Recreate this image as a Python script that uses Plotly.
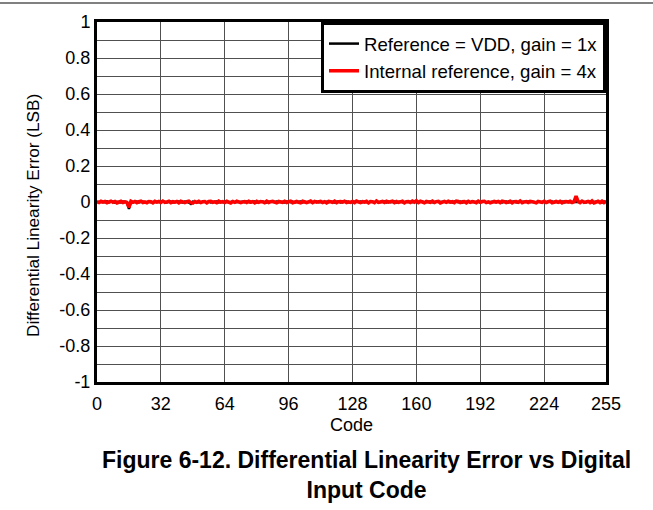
import plotly.graph_objects as go

codes = list(range(256))

# DNL, internal reference, gain = 4x (LSB)
dnl_internal = [
    0.002, -0.003, 0.004, -0.001, 0.003, -0.004, 0.001, 0.005, -0.002, 0.003, -0.005, 0.002, 0.004, -0.003, 0.001, -0.002,
    -0.030, 0.004, -0.002, 0.003, -0.004, 0.002, 0.005, -0.003, 0.001, -0.004, 0.003, 0.002, -0.005, 0.004, -0.001, 0.003,
    -0.003, 0.005, -0.002, 0.001, 0.004, -0.004, 0.002, -0.001, 0.003, -0.005, 0.004, 0.001, -0.003, 0.002, 0.005, -0.004,
    -0.006, 0.003, -0.002, 0.004, -0.003, 0.001, 0.002, -0.005, 0.003, 0.004, -0.002, 0.001, -0.004, 0.005, -0.001, 0.002,
    -0.003, 0.004, 0.001, -0.005, 0.003, -0.002, 0.005, 0.002, -0.004, 0.001, 0.003, -0.003, 0.004, -0.001, 0.002, -0.005,
    0.004, -0.002, 0.003, 0.001, -0.004, 0.005, -0.003, 0.002, 0.004, -0.001, -0.005, 0.003, 0.001, -0.002, 0.004, -0.003,
    0.002, 0.005, -0.004, 0.001, 0.003, -0.002, -0.005, 0.004, 0.002, -0.003, 0.001, 0.005, -0.004, 0.003, -0.001, 0.002,
    0.004, -0.003, 0.002, -0.005, 0.003, 0.001, -0.002, 0.005, -0.004, 0.002, 0.003, -0.001, 0.004, -0.003, 0.001, -0.002,
    0.003, -0.004, 0.005, 0.001, -0.003, 0.002, -0.001, 0.004, -0.005, 0.003, 0.002, -0.004, 0.006, -0.002, 0.001, 0.003,
    -0.003, 0.004, -0.001, 0.002, 0.005, -0.004, 0.003, -0.002, 0.001, 0.004, -0.005, 0.002, 0.003, -0.003, 0.005, -0.001,
    0.007, -0.003, 0.004, 0.002, -0.004, 0.003, 0.001, -0.002, 0.005, -0.003, 0.002, 0.004, -0.005, 0.001, 0.003, -0.002,
    0.004, -0.001, 0.002, -0.004, 0.005, 0.003, -0.003, 0.001, 0.002, -0.005, 0.004, -0.002, 0.003, 0.001, -0.004, 0.005,
    -0.002, 0.003, 0.004, -0.003, 0.001, -0.005, 0.002, 0.004, -0.001, 0.003, -0.004, 0.005, 0.002, -0.003, 0.001, 0.004,
    -0.005, 0.002, 0.003, -0.002, 0.006, -0.004, 0.001, 0.003, -0.003, 0.004, 0.002, -0.001, -0.005, 0.003, 0.001, -0.002,
    0.004, -0.003, 0.002, 0.005, -0.004, 0.001, 0.003, -0.002, 0.004, -0.005, 0.002, 0.003, -0.001, 0.004, -0.003, 0.002,
    0.033, 0.003, -0.004, 0.005, -0.002, 0.001, 0.004, -0.003, 0.006, -0.005, 0.002, 0.004, -0.003, 0.005, -0.004, 0.003,
]

# DNL, reference = VDD, gain = 1x (LSB)
dnl_vdd = [
    0.001, -0.002, 0.002, 0.000, -0.001, 0.003, -0.002, 0.001, 0.002, -0.003, 0.001, 0.000, -0.002, 0.002, 0.001, -0.001,
    -0.038, 0.002, -0.001, 0.001, 0.003, -0.002, 0.000, 0.002, -0.003, 0.001, 0.002, -0.001, 0.000, -0.002, 0.003, 0.001,
    -0.001, 0.002, 0.000, -0.003, 0.001, 0.002, -0.002, 0.001, 0.000, 0.003, -0.001, -0.002, 0.002, 0.001, -0.003, -0.010,
    0.002, -0.001, 0.001, 0.000, -0.002, 0.003, 0.001, -0.001, 0.002, -0.003, 0.000, 0.001, 0.002, -0.002, 0.001, -0.001,
    0.000, 0.002, -0.003, 0.001, 0.002, -0.001, 0.000, -0.002, 0.003, 0.001, -0.001, 0.002, 0.000, -0.003, 0.001, 0.002,
    -0.002, 0.001, 0.000, 0.003, -0.001, -0.002, 0.002, 0.001, -0.003, 0.000, 0.002, -0.001, 0.001, 0.000, -0.002, 0.003,
    0.001, -0.001, 0.002, -0.003, 0.000, 0.001, 0.002, -0.002, 0.001, -0.001, 0.000, 0.002, -0.003, 0.001, 0.002, -0.001,
    0.000, -0.002, 0.003, 0.001, -0.001, 0.002, 0.000, -0.003, 0.001, 0.002, -0.002, 0.001, 0.000, 0.003, -0.001, -0.002,
    0.002, 0.001, -0.003, 0.000, 0.002, -0.001, 0.001, 0.000, -0.002, 0.003, 0.001, -0.001, 0.002, -0.003, 0.000, 0.001,
    0.002, -0.002, 0.001, -0.001, 0.000, 0.002, -0.003, 0.001, 0.002, -0.001, 0.000, -0.002, 0.003, 0.001, -0.001, 0.002,
    0.000, -0.003, 0.001, 0.002, -0.002, 0.001, 0.000, 0.003, -0.001, -0.002, 0.002, 0.001, -0.003, 0.000, 0.002, -0.001,
    0.001, 0.000, -0.002, 0.003, 0.001, -0.001, 0.002, -0.003, 0.000, 0.001, 0.002, -0.002, 0.001, -0.001, 0.000, 0.002,
    -0.003, 0.001, 0.002, -0.001, 0.000, -0.002, 0.003, 0.001, -0.001, 0.002, 0.000, -0.003, 0.001, 0.002, -0.002, 0.001,
    0.000, 0.003, -0.001, -0.002, 0.002, 0.001, -0.003, 0.000, 0.002, -0.001, 0.001, 0.000, -0.002, 0.003, 0.001, -0.001,
    0.002, -0.003, 0.000, 0.001, 0.002, -0.002, 0.001, -0.001, 0.000, 0.002, -0.003, 0.001, 0.002, -0.001, 0.000, -0.002,
    0.003, 0.001, -0.001, 0.002, 0.000, -0.003, 0.001, 0.002, -0.002, 0.001, 0.000, 0.003, -0.001, -0.002, 0.002, 0.001,
]

x_tickvals = [0, 32, 64, 96, 128, 160, 192, 224, 255]
x_ticktext = ["0", "32", "64", "96", "128", "160", "192", "224", "255"]
y_tickvals = [-1, -0.8, -0.6, -0.4, -0.2, 0, 0.2, 0.4, 0.6, 0.8, 1]
y_ticktext = ["-1", "-0.8", "-0.6", "-0.4", "-0.2", "0", "0.2", "0.4", "0.6", "0.8", "1"]

FONT = "Liberation Sans Narrow, Arial Narrow, Liberation Sans, Arial, sans-serif"
GRID = "#505050"

# plot-area geometry in pixels, used to place the free-standing labels
PL, PR, PT, PB = 97, 606, 22, 382
PW, PH = PR - PL, PB - PT

fig = go.Figure()
fig.add_trace(go.Scatter(
    x=codes, y=dnl_vdd, mode="lines", name="Reference = VDD, gain = 1x",
    line=dict(color="black", width=2.5),
))
fig.add_trace(go.Scatter(
    x=codes, y=dnl_internal, mode="lines", name="Internal reference, gain = 4x",
    line=dict(color="#ff0000", width=3.5),
))

fig.update_layout(
    width=653, height=510,
    margin=dict(l=PL, r=653 - PR, t=PT, b=510 - PB),
    paper_bgcolor="white", plot_bgcolor="white",
    font=dict(family=FONT, size=18, color="black"),
    showlegend=True,
    legend=dict(
        x=1, y=1, xanchor="right", yanchor="top",
        bgcolor="white", bordercolor="black", borderwidth=3,
        font=dict(family=FONT, size=18.6, color="black"),
        tracegroupgap=0,
    ),
    xaxis=dict(
        range=[0, 255], tickvals=x_tickvals, ticktext=x_ticktext,
        showgrid=True, gridcolor=GRID, gridwidth=1,
        showline=True, linecolor="black", linewidth=3, mirror=True,
        ticks="", zeroline=False, ticklabelstandoff=3,
        title=dict(text="Code", font=dict(family=FONT, size=18), standoff=6),
        tickfont=dict(family=FONT, size=18),
    ),
    yaxis=dict(
        range=[-1, 1], tickvals=y_tickvals, ticktext=y_ticktext,
        showgrid=True, gridcolor=GRID, gridwidth=1,
        minor=dict(dtick=0.1, tick0=0, showgrid=True, gridcolor=GRID, gridwidth=1),
        showline=True, linecolor="black", linewidth=3, mirror=True,
        ticks="", zeroline=False,
        tickfont=dict(family=FONT, size=18),
    ),
    annotations=[
        dict(
            text="Differential Linearity Error (LSB)",
            xref="paper", yref="paper", x=(33 - PL) / PW, y=(PB - 216) / PH,
            xanchor="center", yanchor="middle", showarrow=False, textangle=-90,
            font=dict(family=FONT, size=17.2, color="black"),
        ),
        dict(
            text="<b>Figure 6-12. Differential Linearity Error vs Digital<br>Input Code</b>",
            xref="paper", yref="paper", x=(366 - PL) / PW, y=-(445 - PB) / PH,
            xanchor="center", yanchor="top", showarrow=False, align="center",
            font=dict(family=FONT, size=23, color="black"),
        ),
    ],
    shapes=[
        dict(
            type="line", xref="paper", yref="paper",
            x0=-PL / PW, x1=(653 - PL) / PW, y0=(PB - 3) / PH, y1=(PB - 3) / PH,
            line=dict(color="#808080", width=2),
        )
    ],
)

fig.write_html("out.html")
